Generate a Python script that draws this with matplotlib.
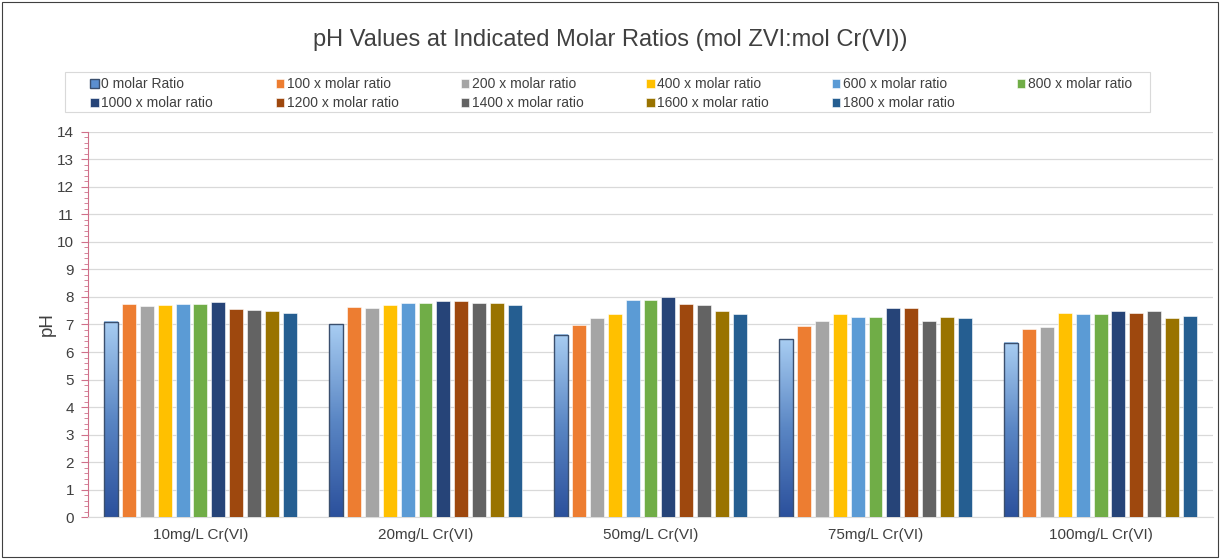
import numpy as np
import matplotlib.pyplot as plt
from matplotlib.patches import Rectangle
from matplotlib.colors import LinearSegmentedColormap

plt.rcParams['font.family'] = ['Liberation Sans', 'DejaVu Sans']

# pH readings per Cr(VI) concentration, one list per molar ratio
groups = ['10mg/L Cr(VI)', '20mg/L Cr(VI)', '50mg/L Cr(VI)', '75mg/L Cr(VI)', '100mg/L Cr(VI)']
series_names = ['0 molar Ratio', '100 x molar ratio', '200 x molar ratio', '400 x molar ratio',
                '600 x molar ratio', '800 x molar ratio', '1000 x molar ratio', '1200 x molar ratio',
                '1400 x molar ratio', '1600 x molar ratio', '1800 x molar ratio']
ph_0 = [7.10, 7.00, 6.62, 6.47, 6.33]
ph_100 = [7.75, 7.64, 6.98, 6.95, 6.84]
ph_200 = [7.67, 7.60, 7.24, 7.13, 6.90]
ph_400 = [7.70, 7.70, 7.38, 7.38, 7.42]
ph_600 = [7.75, 7.78, 7.89, 7.27, 7.38]
ph_800 = [7.75, 7.78, 7.89, 7.27, 7.38]
ph_1000 = [7.80, 7.85, 8.00, 7.60, 7.49]
ph_1200 = [7.56, 7.85, 7.75, 7.60, 7.42]
ph_1400 = [7.53, 7.78, 7.71, 7.13, 7.49]
ph_1600 = [7.50, 7.78, 7.49, 7.27, 7.24]
ph_1800 = [7.42, 7.70, 7.38, 7.24, 7.30]
series = [ph_0, ph_100, ph_200, ph_400, ph_600, ph_800, ph_1000, ph_1200, ph_1400, ph_1600, ph_1800]

colors = ['#5b8fd0', '#ED7D31', '#A5A5A5', '#FFC000', '#5B9BD5', '#70AD47',
          '#264478', '#9E480E', '#636363', '#997300', '#255E91']

fig = plt.figure(figsize=(12.2, 5.59), dpi=100)
ax = fig.add_axes([0.0721, 0.0751, 0.9222, 0.6888])

x = np.arange(len(groups))
pitch = 0.0796
width = 0.062
# gradient for the 0 ratio bars: light blue on top, dark blue at the base
grad = np.linspace(0, 1, 256).reshape(-1, 1)
blues = LinearSegmentedColormap.from_list('zvi', ['#2b509c', '#5a86c4', '#a8cdf2'])

for i, (name, vals) in enumerate(zip(series_names, series)):
    pos = x + (i - 5) * pitch
    if i == 0:
        bars = ax.bar(pos, vals, width, facecolor='none', edgecolor='#3a4f6e',
                      linewidth=1.0, label=name, zorder=3)
        for b in bars:
            ax.imshow(grad, cmap=blues, origin='lower', aspect='auto', zorder=2.5,
                      extent=[b.get_x(), b.get_x() + b.get_width(), 0, b.get_height()])
    else:
        ax.bar(pos, vals, width, color=colors[i], edgecolor='white', linewidth=0.4,
               label=name, zorder=3)

ax.set_xlim(-0.5, 4.5)
ax.set_ylim(0, 14)
ax.set_xticks(x)
ax.set_xticklabels(groups, fontsize=11, color='#404040')
ax.set_yticks(range(0, 15))
ax.set_yticklabels([str(v) for v in range(0, 15)], fontsize=11, color='#404040')
ax.set_yticks(np.arange(0, 14.01, 0.2), minor=True)
ax.tick_params(axis='x', length=0, pad=8)
ax.tick_params(axis='y', which='major', length=5, color='#d0708a', pad=5)
ax.tick_params(axis='y', which='minor', length=3, color='#d0708a')
ax.grid(axis='y', color='#d9d9d9', linewidth=0.9, zorder=0)
ax.set_axisbelow(True)
for s in ['top', 'right']:
    ax.spines[s].set_visible(False)
ax.spines['left'].set_color('#d0708a')
ax.spines['bottom'].set_color('#d9d9d9')
ax.set_ylabel('pH', fontsize=13.5, color='#404040')
ax.yaxis.set_label_coords(-0.029, 0.5)

fig.text(0.5, 0.928, 'pH Values at Indicated Molar Ratios (mol ZVI:mol Cr(VI))',
         ha='center', va='center', fontsize=17, color='#404040')

# legend fills column by column, so interleave to read row by row
handles, labels = ax.get_legend_handles_labels()
handles[0] = Rectangle((0, 0), 1, 1, facecolor='#5b8fd0', edgecolor='#3a4f6e')
order = [0, 6, 1, 7, 2, 8, 3, 9, 4, 10, 5]
leg = fig.legend([handles[k] for k in order], [labels[k] for k in order], ncol=6,
                 loc='upper left', bbox_to_anchor=(86 / 1220, 1 - 73 / 559),
                 borderaxespad=0, frameon=False, fontsize=10,
                 handlelength=0.6, handleheight=0.6, handletextpad=0.2,
                 columnspacing=4.5, labelspacing=0.38, borderpad=0.3)
for t in leg.get_texts():
    t.set_color('#404040')
# legend box drawn separately so the entries can sit further in
fig.patches.append(Rectangle((65 / 1220, 1 - 112 / 559), 1085 / 1220, 40 / 559,
                             transform=fig.transFigure, fill=False,
                             edgecolor='#d9d9d9', linewidth=0.8))

# thin frame around the whole chart
fig.patches.append(Rectangle((0.002, 0.003), 0.996, 0.994, transform=fig.transFigure,
                             fill=False, edgecolor='#404040', linewidth=0.8))

fig.savefig('out.png', dpi=100)
